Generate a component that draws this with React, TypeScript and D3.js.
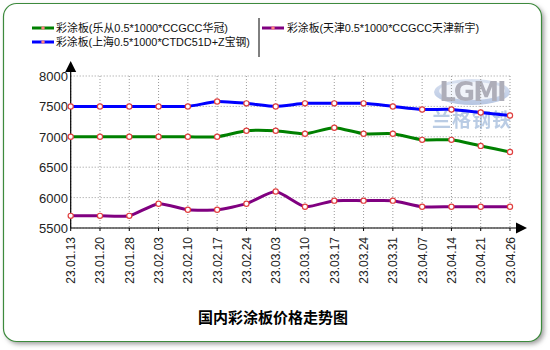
import React from "react";
import * as d3 from "d3";

const dates = ["23.01.13","23.01.20","23.01.28","23.02.03","23.02.10","23.02.17","23.02.24","23.03.03","23.03.10","23.03.17","23.03.24","23.03.31","23.04.07","23.04.14","23.04.21","23.04.26"];
const greenValues = [7000,7000,7000,7000,7000,7000,7100,7100,7050,7150,7050,7050,6950,6950,6850,6750];
const blueValues = [7500,7500,7500,7500,7500,7580,7550,7500,7550,7550,7550,7500,7450,7450,7400,7350];
const purpleValues = [5700,5700,5700,5900,5800,5800,5900,6100,5850,5950,5950,5950,5850,5850,5850,5850];
const yTicks = [5500,6000,6500,7000,7500,8000];
const seriesNames = ["彩涂板(乐从0.5*1000*CCGCC华冠)","彩涂板(上海0.5*1000*CTDC51D+Z宝钢)","彩涂板(天津0.5*1000*CCGCC天津新宇)"];
const title = "国内彩涂板价格走势图";

const series = [
  { name: seriesNames[0], values: greenValues, color: "#008000" },
  { name: seriesNames[1], values: blueValues, color: "#0000ff" },
  { name: seriesNames[2], values: purpleValues, color: "#800080" },
];

const font = "'Liberation Sans', Arial, 'Noto Sans CJK SC', sans-serif";

export default function App() {
  const x0 = 70.7, x1 = 510;
  const x = d3.scaleLinear().domain([0, dates.length - 1]).range([x0, x1]);
  const y = d3.scaleLinear().domain([5500, 8000]).range([228, 76]);
  const line = d3.line<number>().x((_, i) => x(i)).y(d => y(d)).curve(d3.curveCardinal.tension(0.4));

  return (
    <svg width={550} height={350} style={{ position: "absolute", left: 0, top: 0, fontFamily: font }}>
      <defs>
        <filter id="sh" x="-10%" y="-10%" width="120%" height="120%">
          <feGaussianBlur stdDeviation="2.5" />
        </filter>
        <linearGradient id="lg" x1="0" y1="0" x2="0" y2="1">
          <stop offset="0" stopColor="#c8d4ea" />
          <stop offset="1" stopColor="#8ea6d2" />
        </linearGradient>
      </defs>
      <rect width={550} height={350} fill="#fff" />
      <rect x={6} y={6} width={538} height={338} rx={13} fill="#999" filter="url(#sh)" />
      <rect x={3.5} y={3.5} width={538} height={338} rx={13} fill="#fff" stroke="#3d8a3d" strokeWidth={1.2} />

      {/* logo */}
      <g opacity={0.8}>
        <ellipse cx={472} cy={92} rx={38} ry={13} fill="url(#lg)" opacity={0.8} />
        <ellipse cx={472} cy={91} rx={33} ry={9} fill="#eef2fa" />
        <text x={472} y={101} textAnchor="middle" fontSize={26} fontWeight="bold" fill="#9a9aa8" fontFamily="'DejaVu Sans', sans-serif" letterSpacing={-2}>LGMI</text>
        <text x={472} y={127} textAnchor="middle" fontSize={19} fontWeight="bold" fill="#a9c0de" fontFamily="'Noto Sans CJK SC', sans-serif" letterSpacing={1}>兰格钢铁</text>
      </g>

      {/* grid */}
      {yTicks.map(t => (
        <line key={"h" + t} x1={x0} x2={x1} y1={y(t)} y2={y(t)} stroke="#999" strokeDasharray="1,2" strokeWidth={1} />
      ))}
      {dates.map((d, i) => (
        <line key={"v" + d} x1={x(i)} x2={x(i)} y1={y(8000)} y2={y(5500)} stroke="#999" strokeDasharray="1,2" strokeWidth={1} />
      ))}

      {/* axes */}
      <line x1={x0} x2={x0} y1={68} y2={y(5500)} stroke="#000" strokeWidth={1.2} />
      <line x1={x0} x2={518} y1={y(5500)} y2={y(5500)} stroke="#000" strokeWidth={1.2} />
      <path d={`M${x0},61 L${x0 - 5.5},72 L${x0 + 5.5},72 Z`} fill="#000" />
      <path d={`M527,${y(5500)} L516,${y(5500) - 5.5} L516,${y(5500) + 5.5} Z`} fill="#000" />

      {yTicks.map(t => (
        <text key={"yt" + t} x={68} y={y(t) + 5} textAnchor="end" fontSize={13} fill="#222">{t}</text>
      ))}
      {dates.map((d, i) => (
        <line key={"xt" + d} x1={x(i)} x2={x(i)} y1={y(5500)} y2={y(5500) + 3} stroke="#000" />
      ))}
      {dates.map((d, i) => (
        <text key={"xl" + d} transform={`translate(${x(i) + 4.5},237) rotate(-90)`} textAnchor="end" fontSize={12} fill="#222">{d}</text>
      ))}

      {/* lines */}
      {series.map(s => (
        <path key={s.name} d={line(s.values) || ""} fill="none" stroke={s.color} strokeWidth={3} />
      ))}
      {series.map(s => s.values.map((v, i) => (
        <circle key={s.name + i} cx={x(i)} cy={y(v)} r={2.6} fill="#fff" stroke="#e04040" strokeWidth={1.2} />
      )))}

      {/* legend */}
      <g fontSize={11.5} fill="#111">
        <line x1={32} x2={54} y1={28} y2={28} stroke={series[0].color} strokeWidth={3} />
        <circle cx={43} cy={28} r={1.8} fill="#ff8080" />
        <text x={56} y={32} textLength={172} lengthAdjust="spacingAndGlyphs">{series[0].name}</text>
        <line x1={32} x2={54} y1={42} y2={42} stroke={series[1].color} strokeWidth={3} />
        <circle cx={43} cy={42} r={1.8} fill="#ff8080" />
        <text x={56} y={46} textLength={194} lengthAdjust="spacingAndGlyphs">{series[1].name}</text>
        <line x1={259} x2={259} y1={18} y2={57} stroke="#000" strokeWidth={1} />
        <line x1={262} x2={284} y1={28} y2={28} stroke={series[2].color} strokeWidth={3} />
        <circle cx={273} cy={28} r={1.8} fill="#ff8080" />
        <text x={287} y={32} textLength={192} lengthAdjust="spacingAndGlyphs">{series[2].name}</text>
      </g>

      <text x={273} y={323} textAnchor="middle" fontSize={15} fontWeight="bold" fill="#000">{title}</text>
    </svg>
  );
}
